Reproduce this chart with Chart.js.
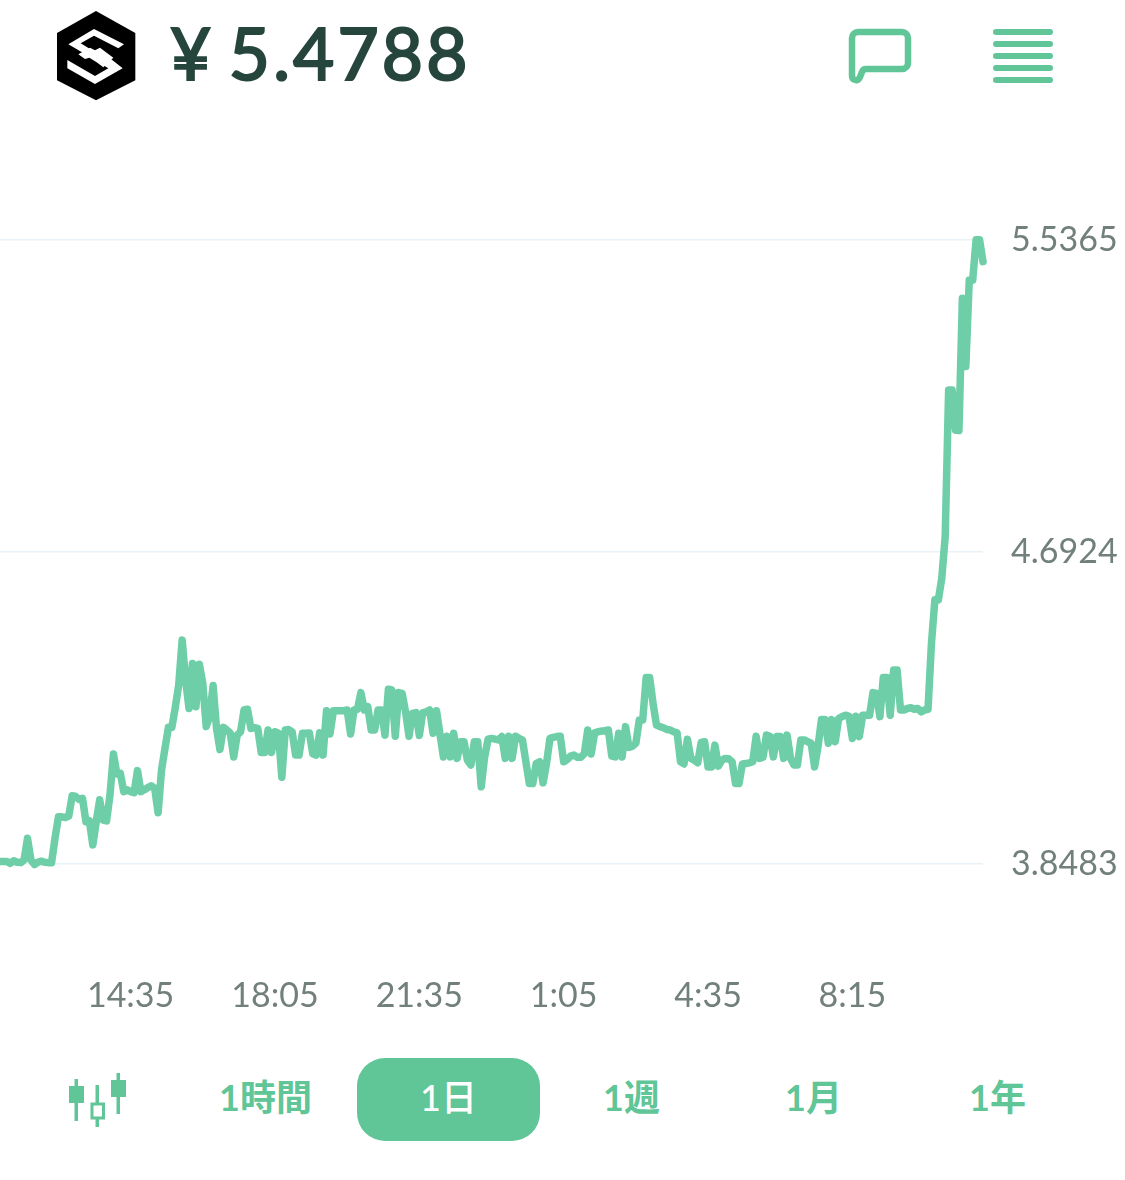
<!DOCTYPE html>
<html lang="ja">
<head>
<meta charset="utf-8">
<title>IOST</title>
<script src="https://cdn.jsdelivr.net/npm/chart.js@4"></script>
<style>
  body { margin: 0; background: #fff; width: 1125px; height: 1180px; overflow: hidden; position: relative; font-family: Lato, "Noto Sans CJK JP", sans-serif; }
  #icons { position: absolute; left: 0; top: 0; }
  #price { position: absolute; left: 170px; top: 8px; font-size: 71px; line-height: 90px; font-weight: 400; color: #26453c; letter-spacing: 3.2px; word-spacing: -7px; -webkit-text-stroke: 2.2px #26453c; white-space: pre; }
  #chart-wrap { position: absolute; left: 0; top: 200px; width: 1125px; height: 820px; }
  .tab { position: absolute; top: 1058px; height: 83px; width: 183px; line-height: 79px; text-align: center; font-size: 36px; font-weight: 700; color: #60c597; font-family: Lato, "Noto Sans CJK JP", sans-serif; }
  .tab.on { background: #60c597; color: #fff; border-radius: 28px; font-weight: 500; }
</style>
</head>
<body>
<svg id="icons" width="1125" height="1180" viewBox="0 0 1125 1180">
  <g transform="translate(50 5) scale(.3333)">
    <polygon points="138,18 256,84 256,226 138,286 21,226 21,84" fill="#000"/>
    <g fill="#fff">
      <polygon points="55,118 132,72 222,118 205,130 132,92 92,115 125,135 105,147"/>
      <polygon points="85,148 120,128 135,136 150,128 190,158 160,187 140,172 118,158 105,162"/>
      <polygon points="52,165 135,213 175,190 150,175 180,160 218,190 135,237 52,190"/>
    </g>
  </g>
  <path d="M858 32H902a6 6 0 0 1 6 6V63a6 6 0 0 1-6 6H866q-3 0-4 3L860 77q-2 4-5 3q-3-1-3-4V38a6 6 0 0 1 6-6Z" fill="none" stroke="#60c597" stroke-width="6.5" stroke-linejoin="round"/>
  <g stroke="#60c597" stroke-width="6" stroke-linecap="round">
    <line x1="996" x2="1050" y1="32" y2="32"/>
    <line x1="996" x2="1050" y1="44" y2="44"/>
    <line x1="996" x2="1050" y1="56" y2="56"/>
    <line x1="996" x2="1050" y1="68" y2="68"/>
    <line x1="996" x2="1050" y1="80" y2="80"/>
  </g>
  <g fill="#60c597">
    <rect x="74.5" y="1079" width="3.5" height="42"/>
    <rect x="69" y="1086" width="15" height="17"/>
    <rect x="95.500" y="1085" width="3.5" height="42"/>
    <rect x="116.500" y="1073" width="3.500" height="41"/>
    <rect x="111" y="1080" width="15" height="17"/>
  </g>
  <rect x="92" y="1104" width="11.500" height="14" fill="#fff" stroke="#60c597" stroke-width="3"/>
</svg>

<div id="price">¥ 5.4788</div>

<div id="chart-wrap"><canvas id="price-chart" width="1125" height="820"></canvas></div>

<div class="tab" style="left:174px">1時間</div>
<div class="tab on" style="left:357px">1日</div>
<div class="tab" style="left:540px">1週</div>
<div class="tab" style="left:722px">1月</div>
<div class="tab" style="left:906px">1年</div>

<script>
// one price every 5 minutes
const pricesRise = [3.855, 3.855, 3.855, 3.850, 3.857, 3.853, 3.852, 3.859, 3.918, 3.859, 3.847, 3.853, 3.856, 3.853, 3.852, 3.852,
  3.918, 3.976, 3.976, 3.974, 3.978, 4.033, 4.031, 4.023, 4.026, 3.963, 3.965, 3.900, 3.963, 4.022, 3.967, 3.965,
  4.035, 4.146, 4.092, 4.094, 4.044, 4.049, 4.044, 4.041, 4.101, 4.044, 4.049, 4.055, 4.060, 4.053, 3.987, 4.103,
  4.161, 4.218, 4.218, 4.272, 4.333, 4.454, 4.346, 4.269, 4.391, 4.274, 4.389, 4.337, 4.220, 4.247, 4.331, 4.215,
  4.158, 4.218, 4.211, 4.202, 4.138, 4.197, 4.206, 4.265, 4.267, 4.215, 4.217, 4.215, 4.150, 4.150, 4.211, 4.150,
  4.206, 4.202, 4.083, 4.211, 4.212, 4.206, 4.143, 4.143, 4.202, 4.202, 4.203, 4.146, 4.143, 4.203, 4.143, 4.263, 4.200]
const pricesNight = [4.263, 4.263, 4.263, 4.263, 4.265, 4.200, 4.265, 4.267, 4.312, 4.265, 4.274, 4.211, 4.211, 4.265, 4.265, 4.197,
  4.321, 4.319, 4.194, 4.312, 4.310, 4.260, 4.194, 4.256, 4.258, 4.196, 4.258, 4.260, 4.265, 4.202, 4.263, 4.200,
  4.138, 4.194, 4.138, 4.202, 4.134, 4.179, 4.179, 4.129, 4.116, 4.179, 4.179, 4.057, 4.138, 4.186, 4.188, 4.186,
  4.184, 4.193, 4.134, 4.194, 4.134, 4.194, 4.188, 4.184, 4.125, 4.066, 4.066, 4.120, 4.125, 4.068, 4.120, 4.188,
  4.191, 4.193, 4.194, 4.125, 4.131, 4.140, 4.143, 4.137, 4.137, 4.147, 4.211, 4.146, 4.203, 4.206, 4.208, 4.209,
  4.211, 4.140, 4.138, 4.202, 4.138, 4.220, 4.164, 4.167, 4.175, 4.238, 4.238, 4.353, 4.353, 4.283, 4.224, 4.220]
const pricesMorning = [4.217, 4.212, 4.211, 4.206, 4.203, 4.125, 4.119, 4.186, 4.134, 4.129, 4.122, 4.177, 4.179, 4.111, 4.111, 4.170,
  4.113, 4.129, 4.134, 4.133, 4.125, 4.066, 4.066, 4.119, 4.120, 4.122, 4.125, 4.194, 4.134, 4.137, 4.197, 4.194,
  4.138, 4.193, 4.193, 4.134, 4.197, 4.134, 4.116, 4.116, 4.184, 4.184, 4.179, 4.175, 4.111, 4.166, 4.239, 4.239,
  4.175, 4.239, 4.179, 4.242, 4.247, 4.251, 4.248, 4.188, 4.248, 4.193, 4.251, 4.251, 4.251, 4.312, 4.310, 4.247,
  4.353, 4.353, 4.251, 4.373, 4.373, 4.265, 4.265, 4.269, 4.271, 4.267, 4.269, 4.260, 4.265, 4.267]
const pricesBreakout = [4.445, 4.563, 4.563, 4.621, 4.734, 5.131, 5.131, 5.022, 5.021, 5.379, 5.194, 5.428, 5.428, 5.537, 5.537, 5.478]

const prices = [...pricesRise, ...pricesNight, ...pricesMorning, ...pricesBreakout]

const priceTicks = [3.8483, 4.6924, 5.5365]
const timeTicks = { 38: '14:35', 80: '18:05', 122: '21:35', 164: '1:05', 206: '4:35', 248: '8:15' }
const categories = prices.map((p, i) => timeTicks[i] || '')

const tickFont = { family: 'Lato, sans-serif', size: 34 }
const tickColor = '#72807c'

new Chart(document.getElementById('price-chart'), {
  type: 'line',
  data: {
    labels: categories,
    datasets: [{
      data: prices,
      borderColor: '#6dcea8',
      borderWidth: 7.5,
      borderJoinStyle: 'round',
      borderCapStyle: 'round',
      pointRadius: 0,
      tension: 0,
      clip: false
    }]
  },
  options: {
    responsive: false,
    animation: false,
    layout: { padding: { top: 40 } },
    plugins: { legend: { display: false }, tooltip: { enabled: false } },
    scales: {
      x: {
        offset: false,
        grid: { display: false },
        border: { display: false },
        afterFit: s => { s.height = 156; s.paddingLeft = 0; s.paddingRight = 0 },
        ticks: {
          autoSkip: false,
          maxRotation: 0,
          padding: 104,
          font: tickFont,
          color: tickColor,
          callback: function (v) { return this.getLabelForValue(v) || null }
        }
      },
      y: {
        position: 'right',
        min: priceTicks[0],
        max: priceTicks[2],
        afterFit: s => { s.width = 142; s.paddingTop = 0; s.paddingBottom = 0 },
        afterBuildTicks: s => { s.ticks = priceTicks.map(value => ({ value })) },
        grid: { color: '#e9f2f6', lineWidth: 1.5, drawTicks: false },
        border: { display: false },
        ticks: {
          padding: 28,
          font: tickFont,
          color: tickColor,
          callback: v => v.toFixed(4)
        }
      }
    }
  }
})
</script>
</body>
</html>
